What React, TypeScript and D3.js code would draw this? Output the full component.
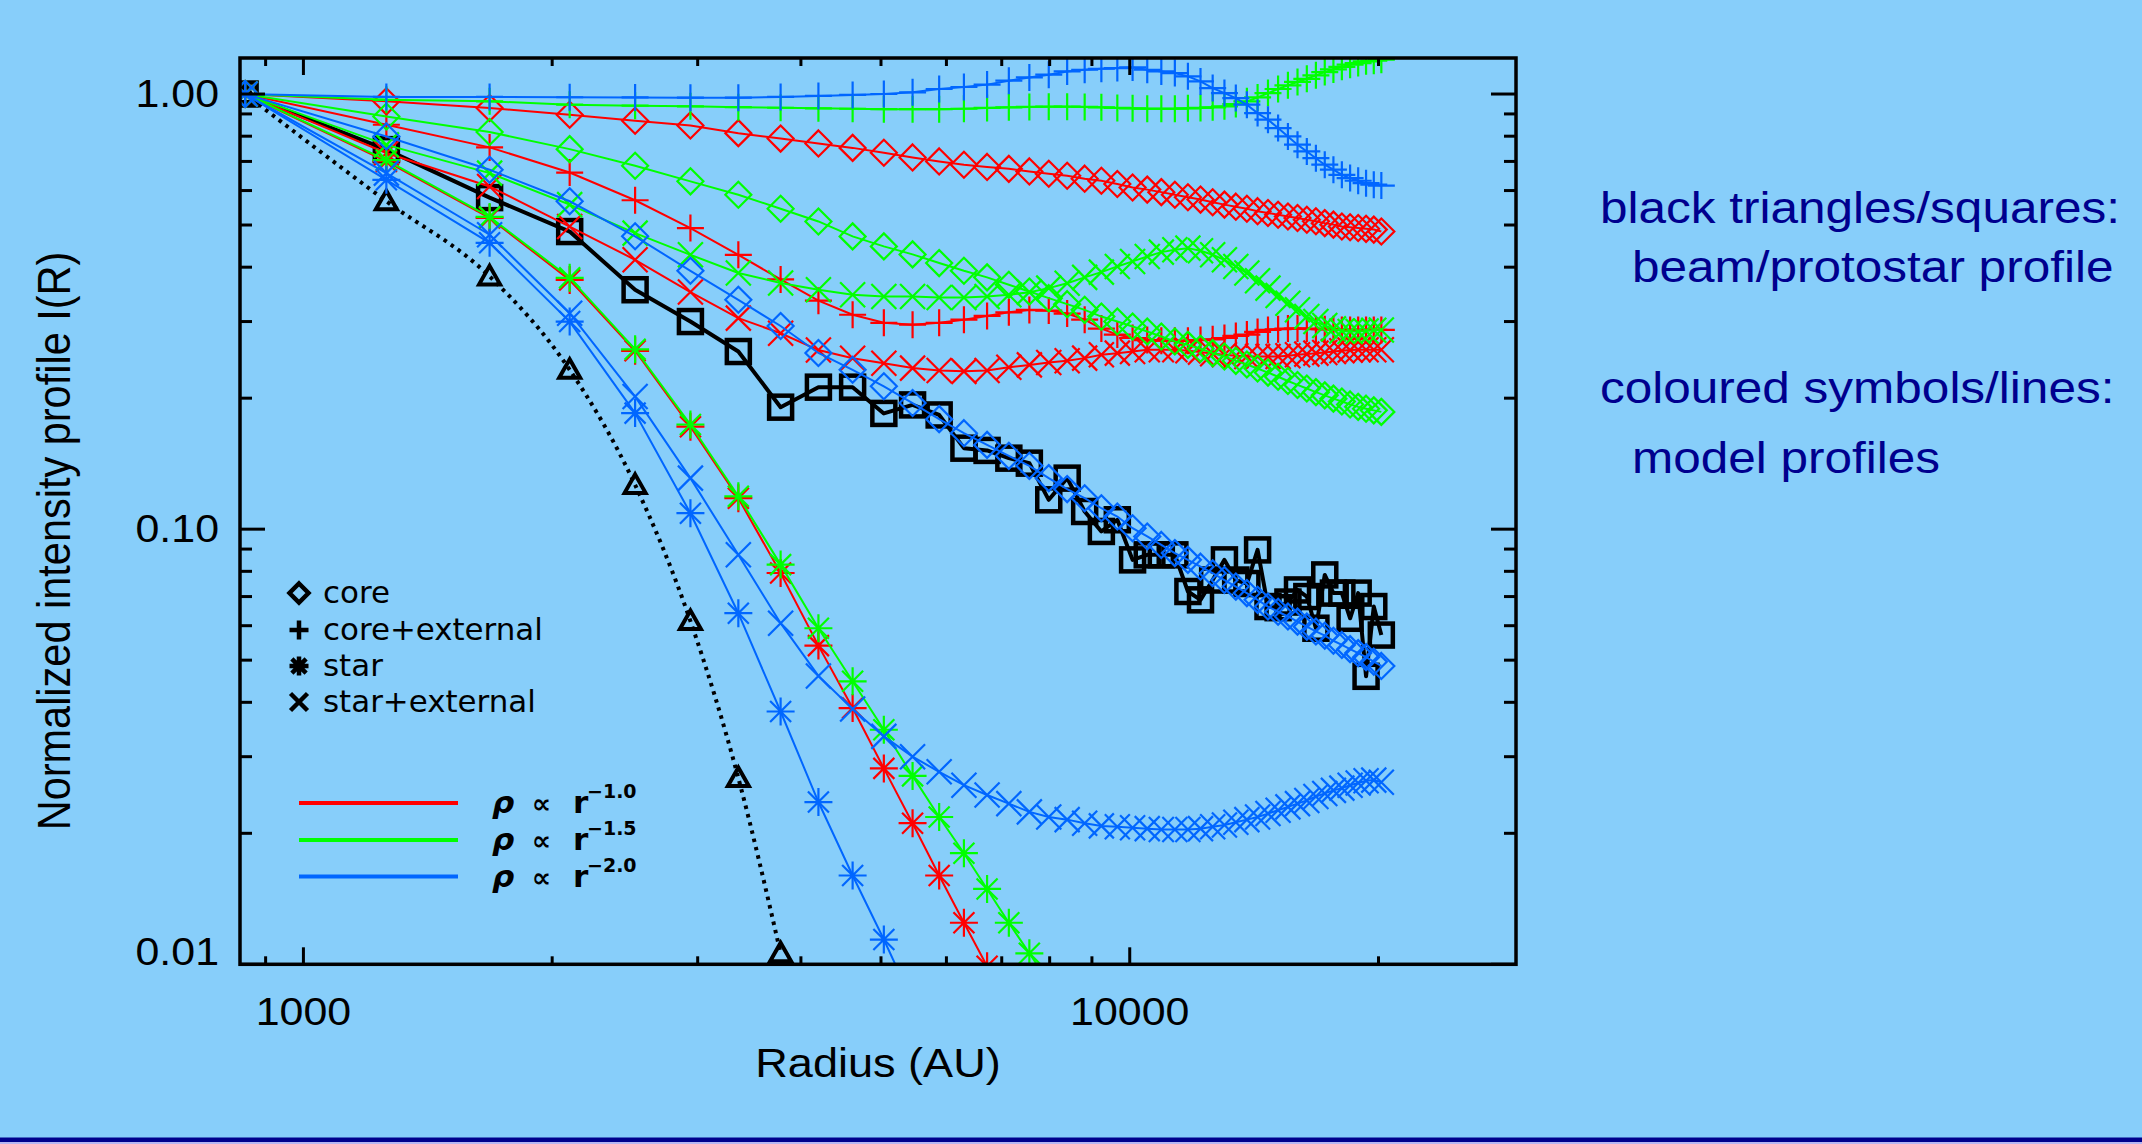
import React, { useEffect, useRef } from "react";
import * as d3 from "d3";

// radius of each sample (AU)
const radius = [
  850, 1260, 1680, 2100, 2520, 2940, 3360, 3780, 4200, 4620, 5040, 5460, 5880,
  6300, 6720, 7140, 7560, 7980, 8400, 8820, 9240, 9660, 10080, 10500, 10920,
  11340, 11760, 12180, 12600, 13020, 13440, 13860, 14280, 14700, 15120, 15540,
  15960, 16380, 16800, 17220, 17640, 18060, 18480, 18900, 19320, 19740, 20160,
];

// rho ~ r^-1.0 (red)
const redCore = [
  1.0, 0.962, 0.929, 0.896, 0.868, 0.847, 0.813, 0.79, 0.77, 0.752, 0.733,
  0.715, 0.7, 0.688, 0.68, 0.673, 0.664, 0.656, 0.649, 0.639, 0.632, 0.621,
  0.61, 0.603, 0.595, 0.587, 0.579, 0.572, 0.564, 0.557, 0.551, 0.545, 0.538,
  0.533, 0.528, 0.523, 0.519, 0.514, 0.51, 0.505, 0.501, 0.496, 0.494, 0.492,
  0.49, 0.488, 0.483,
];
const redCoreExt = [
  1.0, 0.85, 0.754, 0.66, 0.57, 0.492, 0.427, 0.375, 0.335, 0.311, 0.298,
  0.295, 0.298, 0.303, 0.309, 0.315, 0.319, 0.318, 0.313, 0.303, 0.289, 0.28,
  0.275, 0.272, 0.271, 0.271, 0.271, 0.272, 0.273, 0.275, 0.278, 0.28, 0.284,
  0.287, 0.288, 0.289, 0.289, 0.289, 0.288, 0.288, 0.288, 0.287, 0.287, 0.287,
  0.287, 0.287, 0.287,
];
const redStar = [
  1.0, 0.7, 0.519, 0.374, 0.257, 0.172, 0.1178, 0.0793, 0.054, 0.0388, 0.0282,
  0.0211, 0.016, 0.01246, 0.0099,
];
const redStarExt = [
  1.0, 0.732, 0.613, 0.496, 0.416, 0.3506, 0.3055, 0.282, 0.258, 0.247, 0.2407,
  0.2345, 0.2315, 0.2305, 0.2316, 0.2355, 0.2385, 0.2415, 0.2438, 0.2472,
  0.2516, 0.2538, 0.256, 0.2583, 0.2583, 0.2583, 0.257, 0.2552, 0.2529, 0.2516,
  0.2503, 0.2494, 0.2494, 0.2494, 0.2494, 0.2503, 0.2516, 0.2525, 0.2538,
  0.2547, 0.256, 0.257, 0.2579, 0.2583, 0.2583, 0.2583, 0.2583,
];

// rho ~ r^-1.5 (green)
const greenCore = [
  1.0, 0.888, 0.818, 0.747, 0.684, 0.63, 0.587, 0.545, 0.5095, 0.4708, 0.4465,
  0.428, 0.4088, 0.3925, 0.379, 0.3645, 0.3517, 0.3395, 0.3289, 0.3192, 0.308,
  0.3, 0.2922, 0.2846, 0.2771, 0.2699, 0.2652, 0.2597, 0.2538, 0.2493, 0.2437,
  0.239, 0.234, 0.229, 0.224, 0.219, 0.2145, 0.2105, 0.2065, 0.203, 0.1995,
  0.1965, 0.1935, 0.191, 0.1892, 0.1875, 0.186,
];
const greenCoreExt = [
  1.0, 0.97, 0.962, 0.945, 0.94, 0.937, 0.933, 0.93, 0.927, 0.925, 0.923,
  0.923, 0.923, 0.925, 0.929, 0.932, 0.934, 0.935, 0.935, 0.934, 0.932, 0.929,
  0.927, 0.925, 0.925, 0.925, 0.927, 0.929, 0.932, 0.937, 0.948, 0.962, 0.982,
  1.005, 1.027, 1.047, 1.066, 1.084, 1.104, 1.123, 1.139, 1.155, 1.168, 1.178,
  1.189, 1.193, 1.199,
];
const greenStar = [
  1.0, 0.705, 0.522, 0.378, 0.259, 0.174, 0.119, 0.0829, 0.0592, 0.0447,
  0.0346, 0.0271, 0.0218, 0.018, 0.0149, 0.01246, 0.0106, 0.0091,
];
const greenStarExt = [
  1.0, 0.764, 0.658, 0.557, 0.479, 0.427, 0.388, 0.368, 0.355, 0.3456, 0.3426,
  0.3425, 0.3407, 0.3407, 0.3425, 0.3456, 0.3505, 0.358, 0.3675, 0.379, 0.3897,
  0.4016, 0.4124, 0.4234, 0.4332, 0.4386, 0.4424, 0.4363, 0.4272, 0.4159,
  0.4016, 0.3877, 0.3721, 0.358, 0.3443, 0.3306, 0.3192, 0.308, 0.3, 0.2938,
  0.2886, 0.2855, 0.2846, 0.2846, 0.2855, 0.2865, 0.287,
];

// rho ~ r^-2.0 (blue)
const blueCore = [
  1.0, 0.799, 0.67, 0.567, 0.471, 0.3924, 0.3366, 0.293, 0.254, 0.2324, 0.213,
  0.1949, 0.179, 0.1662, 0.1562, 0.1474, 0.1398, 0.131, 0.1236, 0.1178, 0.1117,
  0.1069, 0.1005, 0.0962, 0.092, 0.0881, 0.085, 0.082, 0.0792, 0.0764, 0.0738,
  0.0713, 0.0688, 0.0664, 0.0646, 0.063, 0.0613, 0.0597, 0.0582, 0.0569,
  0.0554, 0.0542, 0.053, 0.0519, 0.0508, 0.0496, 0.0485,
];
const blueCoreExt = [
  1.0, 0.985, 0.985, 0.983, 0.982, 0.981, 0.981, 0.985, 0.99, 0.995, 1.0,
  1.009, 1.027, 1.038, 1.051, 1.073, 1.092, 1.108, 1.127, 1.137, 1.143, 1.147,
  1.151, 1.137, 1.127, 1.117, 1.098, 1.069, 1.032, 1.005, 0.979, 0.945, 0.904,
  0.873, 0.835, 0.799, 0.765, 0.738, 0.712, 0.688, 0.67, 0.652, 0.641, 0.632,
  0.624, 0.619, 0.616,
];
const blueStar = [
  1.0, 0.635, 0.455, 0.3, 0.1848, 0.1088, 0.0641, 0.0381, 0.0236, 0.016,
  0.0114, 0.0082,
];
const blueStarExt = [
  1.0, 0.658, 0.475, 0.3136, 0.2017, 0.131, 0.0873, 0.0608, 0.046, 0.0386,
  0.0334, 0.03, 0.0277, 0.0258, 0.0245, 0.0234, 0.0224, 0.0218, 0.0215, 0.0211,
  0.0208, 0.0207, 0.0206, 0.0205, 0.0204, 0.0204, 0.0204, 0.0205, 0.0207,
  0.0209, 0.0212, 0.0215, 0.0218, 0.0222, 0.0226, 0.023, 0.0234, 0.0238,
  0.0243, 0.0247, 0.0251, 0.0254, 0.0258, 0.0261, 0.0264, 0.0265, 0.0262,
];

// observed profiles (black)
const beamProfile = [1.0, 0.567, 0.381, 0.2324, 0.1264, 0.0615, 0.0268, 0.0106];
const protostarProfile = [
  1.0, 0.745, 0.578, 0.483, 0.355, 0.3, 0.256, 0.1907, 0.212, 0.212, 0.1845,
  0.193, 0.183, 0.1535, 0.1517, 0.1456, 0.1418, 0.1168, 0.131, 0.1098, 0.0988,
  0.1051, 0.085, 0.0873, 0.0873, 0.0873, 0.0719, 0.0688, 0.0764, 0.085, 0.0764,
  0.075, 0.0896, 0.0664, 0.066, 0.068, 0.0725, 0.07, 0.0592, 0.0785, 0.0713,
  0.0713, 0.0624, 0.0713, 0.0459, 0.0664, 0.0571,
];

// axes
const xMajorTicks = [1000, 10000];
const xTickLabels = ["1000", "10000"];
const xMinorTicks = [900, 2000, 3000, 4000, 5000, 6000, 7000, 8000, 9000, 20000];
const yMajorTicks = [1, 0.1, 0.01];
const yTickLabels = ["1.00", "0.10", "0.01"];
const yMinorTicks = [
  0.9, 0.8, 0.7, 0.6, 0.5, 0.4, 0.3, 0.2, 0.09, 0.08, 0.07, 0.06, 0.05, 0.04,
  0.03, 0.02,
];

const symbolNames = ["core", "core+external", "star", "star+external"];
const slopeLabels = ["\u22121.0", "\u22121.5", "\u22122.0"];
const noteLines = [
  "black triangles/squares:",
  "beam/protostar profile",
  "coloured symbols/lines:",
  "model profiles",
];

const RED = "#ff0000";
const GREEN = "#00ff00";
const BLUE = "#0066ff";
const BG = "#87cefa";
const NAVY = "#00008e";

const series = [
  { values: redCore, color: RED, symbol: "diamond" },
  { values: redCoreExt, color: RED, symbol: "plus" },
  { values: redStar, color: RED, symbol: "asterisk" },
  { values: redStarExt, color: RED, symbol: "x" },
  { values: greenCore, color: GREEN, symbol: "diamond" },
  { values: greenCoreExt, color: GREEN, symbol: "plus" },
  { values: greenStar, color: GREEN, symbol: "asterisk" },
  { values: greenStarExt, color: GREEN, symbol: "x" },
  { values: blueCore, color: BLUE, symbol: "diamond" },
  { values: blueCoreExt, color: BLUE, symbol: "plus" },
  { values: blueStar, color: BLUE, symbol: "asterisk" },
  { values: blueStarExt, color: BLUE, symbol: "x" },
];

function symbolPath(type: string, s: number) {
  if (type === "diamond") return `M0,${-s}L${s},0L0,${s}L${-s},0Z`;
  if (type === "plus") return `M${-s},0H${s}M0,${-s}V${s}`;
  if (type === "x") return `M${-s},${-s}L${s},${s}M${-s},${s}L${s},${-s}`;
  const d = s * 0.75;
  return `M${-s},0H${s}M0,${-s}V${s}M${-d},${-d}L${d},${d}M${-d},${d}L${d},${-d}`;
}

const symbolSize = { diamond: 13, plus: 13.5, x: 12.5, asterisk: 14 };

function drawChart(el: SVGSVGElement) {
  const svg = d3.select(el);
  svg.selectAll("*").remove();

  svg.append("rect").attr("width", 2142).attr("height", 1144).attr("fill", BG);
  // footer rule
  svg.append("rect").attr("y", 1137.5).attr("width", 2142).attr("height", 4.5).attr("fill", "#00008c");
  svg.append("rect").attr("y", 1142).attr("width", 2142).attr("height", 2).attr("fill", "#b6b6f2");

  const x = d3.scaleLog().domain([838, 29340]).range([240, 1516]);
  const y = d3.scaleLog().domain([0.01, 1.21]).range([964.3, 58]);
  const [left, right] = x.range();
  const [bottom, top] = y.range();

  svg
    .append("defs")
    .append("clipPath")
    .attr("id", "plot-clip")
    .append("rect")
    .attr("x", left)
    .attr("y", top)
    .attr("width", right - left)
    .attr("height", bottom - top);

  const plot = svg.append("g").attr("clip-path", "url(#plot-clip)");

  const toPoints = (vals: number[]) => vals.map((v, i) => ({ r: radius[i], v }));
  const line = d3
    .line<any>()
    .x((d) => x(d.r))
    .y((d) => y(d.v));

  // protostar profile: thick black line with squares
  const proto = toPoints(protostarProfile);
  plot
    .append("path")
    .datum(proto)
    .attr("fill", "none")
    .attr("stroke", "#000")
    .attr("stroke-width", 4)
    .attr("stroke-linejoin", "round")
    .attr("d", line);
  plot
    .selectAll("rect.proto")
    .data(proto)
    .enter()
    .append("rect")
    .attr("class", "proto")
    .attr("x", (d) => x(d.r) - 11.5)
    .attr("y", (d) => y(d.v) - 11.5)
    .attr("width", 23)
    .attr("height", 23)
    .attr("fill", "none")
    .attr("stroke", "#000")
    .attr("stroke-width", 4.5);

  // beam profile: dotted curve with triangles
  const beam = toPoints(beamProfile);
  plot
    .append("path")
    .datum(beam)
    .attr("fill", "none")
    .attr("stroke", "#000")
    .attr("stroke-width", 4)
    .attr("stroke-dasharray", "3.5,5")
    .attr("d", line.curve(d3.curveMonotoneX));
  line.curve(d3.curveLinear);
  plot
    .selectAll("path.beam")
    .data(beam)
    .enter()
    .append("path")
    .attr("class", "beam")
    .attr("transform", (d) => `translate(${x(d.r)},${y(d.v)})`)
    .attr("d", "M0,-10.5L10.5,8L-10.5,8Z")
    .attr("fill", "none")
    .attr("stroke", "#000")
    .attr("stroke-width", 4);

  // model profiles
  series.forEach((s) => {
    const pts = toPoints(s.values);
    const g = plot.append("g");
    g.append("path")
      .datum(pts)
      .attr("fill", "none")
      .attr("stroke", s.color)
      .attr("stroke-width", 2)
      .attr("d", line);
    g.selectAll("path.mark")
      .data(pts)
      .enter()
      .append("path")
      .attr("class", "mark")
      .attr("transform", (d) => `translate(${x(d.r)},${y(d.v)})`)
      .attr("d", symbolPath(s.symbol, symbolSize[s.symbol]))
      .attr("fill", "none")
      .attr("stroke", s.color)
      .attr("stroke-width", 2.2);
  });

  // frame and ticks
  const axes = svg.append("g").attr("stroke", "#000");
  axes
    .append("rect")
    .attr("x", left)
    .attr("y", top)
    .attr("width", right - left)
    .attr("height", bottom - top)
    .attr("fill", "none")
    .attr("stroke-width", 3.5);

  const xTicks = [
    ...xMajorTicks.map((v) => ({ v, len: 17 })),
    ...xMinorTicks.map((v) => ({ v, len: 8 })),
  ];
  xTicks.forEach((t) => {
    axes.append("line").attr("x1", x(t.v)).attr("x2", x(t.v)).attr("y1", bottom).attr("y2", bottom - t.len).attr("stroke-width", 3);
    axes.append("line").attr("x1", x(t.v)).attr("x2", x(t.v)).attr("y1", top).attr("y2", top + t.len).attr("stroke-width", 3);
  });
  const yTicks = [
    ...yMajorTicks.map((v) => ({ v, len: 25 })),
    ...yMinorTicks.map((v) => ({ v, len: 12 })),
  ];
  yTicks.forEach((t) => {
    axes.append("line").attr("x1", left).attr("x2", left + t.len).attr("y1", y(t.v)).attr("y2", y(t.v)).attr("stroke-width", 3);
    axes.append("line").attr("x1", right).attr("x2", right - t.len).attr("y1", y(t.v)).attr("y2", y(t.v)).attr("stroke-width", 3);
  });

  const labelFont = "'Liberation Sans', Arial, Helvetica, sans-serif";
  const labels = svg.append("g").attr("font-family", labelFont).attr("fill", "#000");

  yMajorTicks.forEach((v, i) => {
    const base = v === yMajorTicks[yMajorTicks.length - 1] ? y(v) + 1 : y(v) + 13;
    labels
      .append("text")
      .attr("transform", `translate(219,${base}) scale(1.1,1)`)
      .attr("text-anchor", "end")
      .attr("font-size", 39)
      .text(yTickLabels[i]);
  });
  xMajorTicks.forEach((v, i) => {
    labels
      .append("text")
      .attr("transform", `translate(${x(v)},1025) scale(1.1,1)`)
      .attr("text-anchor", "middle")
      .attr("font-size", 39)
      .text(xTickLabels[i]);
  });

  labels
    .append("text")
    .attr("transform", `translate(${(left + right) / 2},1077) scale(1.1,1)`)
    .attr("text-anchor", "middle")
    .attr("font-size", 41)
    .text("Radius (AU)");
  labels
    .append("text")
    .attr("transform", "translate(70,541) scale(1.1,1) rotate(-90)")
    .attr("text-anchor", "middle")
    .attr("font-size", 41.5)
    .text("Normalized intensity profile I(R)");

  // symbol legend
  const legend = svg.append("g");
  const legendSymbols = ["diamond", "plus", "asterisk", "x"];
  const rowBase = [603, 640, 676, 712];
  legendSymbols.forEach((sym, i) => {
    legend
      .append("path")
      .attr("transform", `translate(299,${rowBase[i] - 10})`)
      .attr("d", symbolPath(sym, sym === "x" ? 8.5 : 9.5))
      .attr("fill", "none")
      .attr("stroke", "#000")
      .attr("stroke-width", 4.5);
    legend
      .append("text")
      .attr("transform", `translate(323,${rowBase[i]}) scale(1.03,1)`)
      .attr("font-family", "'DejaVu Sans', sans-serif")
      .attr("font-size", 30)
      .attr("fill", "#000")
      .text(symbolNames[i]);
  });

  // density law legend
  const slopeColors = [RED, GREEN, BLUE];
  const slopeBase = [813, 850, 886.5];
  slopeColors.forEach((c, i) => {
    legend
      .append("line")
      .attr("x1", 299)
      .attr("x2", 458)
      .attr("y1", slopeBase[i] - 10)
      .attr("y2", slopeBase[i] - 10)
      .attr("stroke", c)
      .attr("stroke-width", 4);
    const t = legend
      .append("text")
      .attr("font-family", "'DejaVu Sans', sans-serif")
      .attr("font-weight", "bold")
      .attr("fill", "#000")
      .attr("font-size", 31);
    t.append("tspan").attr("x", 492).attr("y", slopeBase[i]).attr("font-style", "italic").text("\u03c1");
    t.append("tspan").attr("x", 532).attr("y", slopeBase[i]).attr("font-size", 27).text("\u221d");
    t.append("tspan").attr("x", 573).attr("y", slopeBase[i]).text("r");
    t.append("tspan").attr("x", 587).attr("y", slopeBase[i] - 15).attr("font-size", 19).text(slopeLabels[i]);
  });

  // side notes
  const noteX = [1600, 1632, 1600, 1632];
  const noteY = [223, 282, 403, 473];
  noteLines.forEach((txt, i) => {
    svg
      .append("text")
      .attr("transform", `translate(${noteX[i]},${noteY[i]}) scale(1.1,1)`)
      .attr("font-family", labelFont)
      .attr("font-size", 45)
      .attr("fill", NAVY)
      .text(txt);
  });
}

const App = () => {
  const svgRef = useRef<SVGSVGElement>(null);

  useEffect(() => {
    if (svgRef.current) drawChart(svgRef.current);
  }, []);

  return (
    <svg
      ref={svgRef}
      width={2142}
      height={1144}
      style={{ position: "fixed", left: 0, top: 0, display: "block" }}
    />
  );
};

export default App;
